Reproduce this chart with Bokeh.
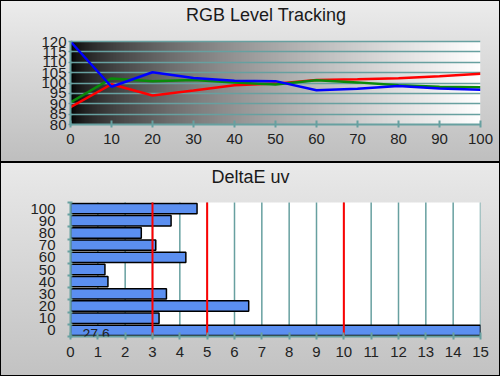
import numpy as np
from bokeh.plotting import figure
from bokeh.layouts import column
from bokeh.models import Range1d, FixedTicker, Label, BoxAnnotation
from bokeh.embed import file_html
from bokeh.resources import INLINE

# ---------------- data ----------------
levels = [0, 10, 20, 30, 40, 50, 60, 70, 80, 90, 100]
red = [88.3, 99.4, 94.0, 96.4, 98.9, 99.7, 101.5, 101.8, 102.3, 103.3, 104.5]
green = [90.6, 102.2, 100.8, 101.4, 100.3, 99.3, 101.3, 100.3, 98.9, 98.2, 98.0]
blue = [120.0, 98.2, 105.2, 102.4, 101.1, 100.9, 96.5, 97.2, 98.5, 97.4, 96.8]
top_y_ticks = [80, 85, 90, 95, 100, 105, 110, 115, 120]
top_title = "RGB Level Tracking"

de_categories = ["0", "10", "20", "30", "40", "50", "60", "70", "80", "90", "100"]
de_values = [27.6, 3.24, 6.52, 3.51, 1.37, 1.26, 4.22, 3.12, 2.59, 3.68, 4.63]
de_limits = [3, 5, 10]
de_x_ticks = list(range(0, 16))
bottom_title = "DeltaE uv"

# ---------------- layout / style ----------------
W = 500
TEAL = "#67a0a0"
FONT = "Liberation Sans"
LABEL_COLOR = "#222222"
TITLE_BASELINE = 14          # px from the top of each panel
PANEL_STYLE_TOP = {"background": "linear-gradient(#ececec, #bebebe)",
                   "box-shadow": "inset 0 0 0 1px #000"}
PANEL_STYLE_BOT = {"background": "linear-gradient(#e9e9e9, #c2c2c2)",
                   "box-shadow": "inset 0 0 0 1px #000"}

# top panel geometry (px)
TOP_H, TOP_L, TOP_R, TOP_PT, TOP_PB = 162, 40, 20, 41, 124
# bottom panel geometry (px)
BOT_H, BOT_L, BOT_R, BOT_PT, BOT_PB = 214, 70, 20, 40, 174


def style_axis(ax, tick_in, tick_out, standoff):
    ax.axis_line_color = TEAL
    ax.axis_line_width = 2
    ax.major_tick_line_color = TEAL
    ax.major_tick_line_width = 2
    ax.major_tick_in = tick_in
    ax.major_tick_out = tick_out
    ax.minor_tick_line_color = None
    ax.major_label_text_font = FONT
    ax.major_label_text_font_size = "15px"
    ax.major_label_text_color = LABEL_COLOR
    ax.major_label_standoff = standoff


def title_label(text, x, y):
    return Label(x=x, y=y, text=text, text_align="center", text_baseline="alphabetic",
                 text_font=FONT, text_font_size="18px", text_color="#1a1a1a")


# ---------------- top chart ----------------
y0, y1 = top_y_ticks[0], top_y_ticks[-1]
top_ppu = (TOP_PB - TOP_PT) / (y1 - y0)            # px per y unit
top_y_end = y1 + TOP_PT / top_ppu                   # frame reaches the panel top
p1 = figure(width=W, height=TOP_H, x_range=Range1d(levels[0], levels[-1]),
            y_range=Range1d(y0, top_y_end),
            output_backend="svg", toolbar_location=None,
            min_border_left=TOP_L, min_border_right=TOP_R, min_border_top=0,
            min_border_bottom=TOP_H - TOP_PB)
p1.styles = PANEL_STYLE_TOP
p1.border_fill_color = None
p1.background_fill_color = None
p1.outline_line_color = None

# black-to-white background gradient of the plot area
n = 256
gray = (255 * np.linspace(0, 1, n) ** 0.6).astype(np.uint8)
img = np.empty((1, n), dtype=np.uint32)
view = img.view(dtype=np.uint8).reshape((1, n, 4))
view[0, :, 0] = gray
view[0, :, 1] = gray
view[0, :, 2] = gray
view[0, :, 3] = 255
p1.image_rgba(image=[img], x=levels[0], y=y0, dw=levels[-1] - levels[0], dh=y1 - y0,
              level="image")

p1.line(levels, red, line_color="#ff0000", line_width=2.5)
p1.line(levels, green, line_color="#0a8a0a", line_width=2.5)
p1.line(levels, blue, line_color="#0000ff", line_width=2.5)

p1.xaxis.ticker = FixedTicker(ticks=levels)
p1.yaxis.ticker = FixedTicker(ticks=top_y_ticks)
p1.yaxis.bounds = (y0, y1)
style_axis(p1.xaxis[0], 4, 3, 6)
style_axis(p1.yaxis[0], 2, 2, 2)
p1.yaxis.major_tick_line_width = 1.5
p1.xgrid.grid_line_color = None
p1.ygrid.grid_line_color = TEAL
p1.ygrid.grid_line_width = 1.5

top_plot_w = W - TOP_L - TOP_R
p1.add_layout(title_label(
    top_title,
    levels[0] + (W / 2 - TOP_L) / top_plot_w * (levels[-1] - levels[0]),
    y1 + (TOP_PT - TITLE_BASELINE) / top_ppu))

# ---------------- bottom chart ----------------
idx = list(range(len(de_categories)))
b0, b1 = -0.5, len(de_categories) - 0.5
bot_ppu = (BOT_PB - BOT_PT) / (b1 - b0)
bot_y_end = b1 + BOT_PT / bot_ppu
p2 = figure(width=W, height=BOT_H, x_range=Range1d(de_x_ticks[0], de_x_ticks[-1]),
            y_range=Range1d(b0, bot_y_end),
            output_backend="svg", toolbar_location=None,
            min_border_left=BOT_L, min_border_right=BOT_R, min_border_top=0,
            min_border_bottom=BOT_H - BOT_PB)
p2.styles = PANEL_STYLE_BOT
p2.border_fill_color = None
p2.background_fill_color = None
p2.outline_line_color = None

# white plot area (only up to the top category)
p2.add_layout(BoxAnnotation(top=b1, fill_color="white", fill_alpha=1.0,
                            line_color=None, level="image"))

# vertical grid lines limited to the plot area
p2.segment(x0=de_x_ticks[1:], y0=b0, x1=de_x_ticks[1:], y1=b1,
           line_color=TEAL, line_width=1.5)

p2.hbar(y=idx, left=0, right=de_values, height=0.85,
        fill_color="#5b8ff0", line_color="black", line_width=1.5)

# limit lines
p2.segment(x0=de_limits, y0=b0, x1=de_limits, y1=b1, line_color="#ff0000", line_width=2)

p2.add_layout(Label(x=0, y=idx[0], x_offset=12, y_offset=-4,
                    text=str(de_values[0]).replace(".", ","), text_align="left",
                    text_baseline="middle", text_font=FONT, text_font_size="14px",
                    text_color=LABEL_COLOR))

p2.xaxis.ticker = FixedTicker(ticks=de_x_ticks)
style_axis(p2.xaxis[0], 4, 3, 7)
style_axis(p2.yaxis[0], 0, 0, 12)
p2.yaxis.bounds = (b0, b1)
p2.yaxis.ticker = FixedTicker(ticks=idx, minor_ticks=[i - 0.5 for i in range(len(idx) + 1)])
p2.yaxis.major_label_overrides = {i: c for i, c in zip(idx, de_categories)}
p2.yaxis.major_tick_line_color = None
p2.yaxis.minor_tick_line_color = TEAL
p2.yaxis.minor_tick_line_width = 2
p2.yaxis.minor_tick_in = 2
p2.yaxis.minor_tick_out = 3
p2.xgrid.grid_line_color = None
p2.ygrid.grid_line_color = None

bot_plot_w = W - BOT_L - BOT_R
p2.add_layout(title_label(
    bottom_title,
    de_x_ticks[0] + (W / 2 - BOT_L) / bot_plot_w * (de_x_ticks[-1] - de_x_ticks[0]),
    b1 + (BOT_PT - TITLE_BASELINE) / bot_ppu))

layout = column(p1, p2, spacing=0)
open("out.html", "w").write(file_html(layout, INLINE))
